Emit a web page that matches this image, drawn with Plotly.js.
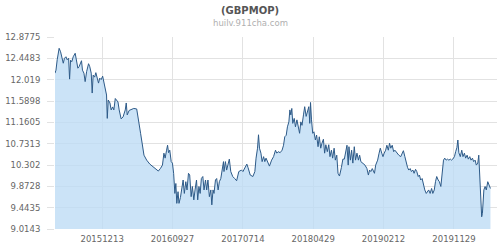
<!DOCTYPE html>
<html>
<head>
<meta charset="utf-8">
<script src="https://cdn.plot.ly/plotly-3.0.1.min.js"></script>
<style>html,body{margin:0;padding:0;background:#fff;}#chart{width:500px;height:250px;}</style>
</head>
<body>
<div id="chart"></div>
<script>
var dates = [
"2015-06-02","2015-06-06","2015-06-11","2015-06-19","2015-06-25","2015-06-30","2015-07-06","2015-07-11","2015-07-17","2015-07-22",
"2015-07-28","2015-08-01","2015-08-05","2015-08-10","2015-08-16","2015-08-24","2015-08-30","2015-09-04","2015-09-09","2015-09-15",
"2015-09-19","2015-09-23","2015-09-29","2015-10-04","2015-10-10","2015-10-18","2015-10-23","2015-10-29","2015-11-02","2015-11-06",
"2015-11-12","2015-11-17","2015-11-22","2015-11-28","2015-12-03","2015-12-09","2015-12-15","2015-12-20","2015-12-25","2015-12-31",
"2016-01-03","2016-01-07","2016-01-14","2016-01-19","2016-01-25","2016-01-30","2016-02-05","2016-02-10","2016-02-16","2016-02-21",
"2016-02-29","2016-03-08","2016-03-17","2016-03-21","2016-03-25","2016-04-02","2016-04-12","2016-04-21","2016-05-03","2016-05-11",
"2016-05-19","2016-06-02","2016-06-13","2016-06-26","2016-07-13","2016-07-31","2016-08-09","2016-08-17","2016-08-23","2016-08-28",
"2016-09-03","2016-09-07","2016-09-11","2016-09-16","2016-09-22","2016-09-27","2016-10-02","2016-10-07","2016-10-11","2016-10-15",
"2016-10-20","2016-10-24","2016-10-30","2016-11-04","2016-11-10","2016-11-15","2016-11-21","2016-11-26","2016-12-02","2016-12-07",
"2016-12-13","2016-12-18","2016-12-24","2016-12-29","2017-01-04","2017-01-09","2017-01-14","2017-01-19","2017-01-24","2017-01-30",
"2017-02-04","2017-02-10","2017-02-15","2017-02-20","2017-02-26","2017-03-04","2017-03-08","2017-03-13","2017-03-17","2017-03-23",
"2017-03-28","2017-04-03","2017-04-08","2017-04-14","2017-04-19","2017-04-25","2017-04-27","2017-05-03","2017-05-08","2017-05-14",
"2017-05-19","2017-05-25","2017-06-02","2017-06-10","2017-06-18","2017-06-27","2017-07-08","2017-07-14","2017-07-25","2017-07-30",
"2017-08-04","2017-08-13","2017-08-24","2017-09-01","2017-09-06","2017-09-12","2017-09-16","2017-09-20","2017-09-26","2017-10-01",
"2017-10-07","2017-10-12","2017-10-17","2017-10-23","2017-10-31","2017-11-09","2017-11-17","2017-11-25","2017-11-30","2017-12-06",
"2017-12-14","2017-12-22","2017-12-28","2018-01-02","2018-01-08","2018-01-13","2018-01-19","2018-01-23","2018-01-27","2018-01-31",
"2018-02-04","2018-02-10","2018-02-15","2018-02-21","2018-02-26","2018-03-04","2018-03-09","2018-03-14","2018-03-20","2018-03-25",
"2018-03-31","2018-04-06","2018-04-11","2018-04-15","2018-04-18","2018-04-22","2018-04-27","2018-05-02","2018-05-08","2018-05-13",
"2018-05-19","2018-05-24","2018-05-30","2018-06-04","2018-06-10","2018-06-15","2018-06-20","2018-06-26","2018-07-02","2018-07-07",
"2018-07-13","2018-07-18","2018-07-24","2018-07-29","2018-08-04","2018-08-09","2018-08-15","2018-08-23","2018-08-29","2018-09-04",
"2018-09-09","2018-09-15","2018-09-20","2018-09-23","2018-09-29","2018-10-04","2018-10-09","2018-10-15","2018-10-20","2018-10-26",
"2018-11-01","2018-11-06","2018-11-11","2018-11-19","2018-11-28","2018-12-06","2018-12-12","2018-12-17","2018-12-22","2018-12-28",
"2019-01-06","2019-01-11","2019-01-19","2019-01-25","2019-01-30","2019-02-05","2019-02-10","2019-02-15","2019-02-21","2019-02-26",
"2019-03-04","2019-03-09","2019-03-14","2019-03-20","2019-03-26","2019-03-31","2019-04-08","2019-04-16","2019-04-24","2019-04-30",
"2019-05-05","2019-05-11","2019-05-16","2019-05-22","2019-05-27","2019-06-02","2019-06-07","2019-06-13","2019-06-18","2019-06-24",
"2019-06-29","2019-07-05","2019-07-10","2019-07-15","2019-07-21","2019-07-27","2019-08-01","2019-08-07","2019-08-12","2019-08-17",
"2019-08-23","2019-08-29","2019-09-03","2019-09-09","2019-09-14","2019-09-19","2019-09-25","2019-09-30","2019-10-06","2019-10-12",
"2019-10-17","2019-10-22","2019-10-28","2019-11-02","2019-11-08","2019-11-14","2019-11-19","2019-11-24","2019-12-01","2019-12-06",
"2019-12-11","2019-12-15","2019-12-19","2019-12-25","2019-12-31","2020-01-05","2020-01-11","2020-01-16","2020-01-22","2020-01-27",
"2020-02-02","2020-02-07","2020-02-13","2020-02-18","2020-02-24","2020-02-29","2020-03-06","2020-03-10","2020-03-14","2020-03-18",
"2020-03-22","2020-03-25","2020-03-27","2020-03-31","2020-04-05","2020-04-10","2020-04-16","2020-04-21","2020-04-27"
];
var rates = [
12.15,12.21,12.42,12.65,12.58,12.48,12.35,12.45,12.48,12.42,
12.45,12.03,12.41,12.38,12.48,12.55,12.35,12.25,12.28,12.38,
12.40,12.21,12.15,11.98,12.18,12.34,12.28,12.15,11.75,12.11,
12.07,12.16,12.08,11.95,12.05,12.02,12.09,11.95,11.88,11.71,
11.24,11.61,11.55,11.41,11.47,11.41,11.64,11.61,11.57,11.41,
11.23,11.27,11.41,11.55,11.31,11.40,11.43,11.44,11.43,11.21,
10.94,10.50,10.40,10.32,10.255,10.18,10.235,10.30,10.54,10.44,
10.60,10.70,10.55,10.60,10.37,10.34,10.135,9.73,9.93,9.53,
9.765,9.53,9.65,9.83,10.0,9.73,9.966,9.80,10.135,10.10,
9.665,9.87,9.60,9.80,10.0,9.60,9.87,9.73,10.03,10.07,
9.80,10.0,9.80,10.0,9.665,9.80,9.50,9.80,9.73,10.0,
10.03,9.80,9.966,10.03,10.235,10.37,10.17,10.37,10.20,10.34,
10.42,10.17,10.07,10.03,9.985,10.17,10.20,10.17,10.30,10.32,
10.25,10.10,10.07,10.17,10.44,10.64,10.91,10.64,10.54,10.37,
10.47,10.37,10.44,10.37,10.28,10.40,10.47,10.60,10.54,10.57,
10.55,10.60,10.70,10.87,10.90,11.07,11.17,11.41,11.31,11.44,
11.14,11.24,11.07,11.21,11.04,10.94,11.17,11.10,11.31,11.475,
11.28,11.41,11.475,11.14,11.56,11.21,10.94,10.97,10.805,10.905,
10.67,10.87,10.64,10.74,10.82,10.54,10.71,10.57,10.71,10.47,
10.60,10.44,10.64,10.40,10.50,10.135,10.08,10.25,10.42,10.42,
10.57,10.70,10.30,10.67,10.40,10.60,10.34,10.67,10.40,10.54,
10.40,10.50,10.37,10.34,10.30,10.23,10.10,10.20,10.17,10.23,
10.135,10.30,10.40,10.54,10.64,10.54,10.47,10.54,10.60,10.70,
10.60,10.74,10.64,10.70,10.57,10.60,10.54,10.50,10.47,10.54,
10.59,10.47,10.34,10.255,10.20,10.23,10.17,10.20,10.135,10.215,
10.17,10.07,10.10,10.0,10.03,9.87,9.80,9.73,9.77,9.80,
9.73,9.83,9.73,9.80,9.966,10.07,10.0,9.966,9.87,10.135,
10.40,10.44,10.40,10.42,10.40,10.42,10.40,10.42,10.47,10.57,
10.65,10.805,10.55,10.47,10.60,10.47,10.54,10.44,10.50,10.42,
10.47,10.40,10.44,10.37,10.40,10.30,10.34,10.50,10.07,9.665,
9.26,9.33,9.60,9.80,9.87,9.80,9.966,9.90,9.83
];
var yTicks = [9.0143, 9.4435, 9.8728, 10.302, 10.7313, 11.1605, 11.5898, 12.019, 12.4483, 12.8775];
var xTickDates = ["2015-12-13","2016-09-27","2017-07-14","2018-04-29","2019-02-12","2019-11-29"];
var xTickLabels = ["20151213","20160927","20170714","20180429","20190212","20191129"];
var titleText = "(GBPMOP)";
var subtitleText = "huilv.911cha.com";

var trace = {
  x: dates, y: rates, type: "scatter", mode: "lines",
  line: {color: "#2d5a88", width: 1},
  fill: "tozeroy", fillcolor: "rgba(190,220,245,0.8)",
  hoverinfo: "x+y"
};
var grid = "#e2e2e2";
var layout = {
  width: 500, height: 250,
  margin: {l: 55, r: 3, t: 37, b: 21, pad: 0},
  paper_bgcolor: "#fff", plot_bgcolor: "#fff",
  showlegend: false,
  font: {family: "DejaVu Sans", size: 8.5, color: "#666"},
  title: {text: "<b>" + titleText + "</b>", x: 0.5, xref: "container", xanchor: "center",
          y: 0.957, yref: "container", yanchor: "middle",
          font: {family: "DejaVu Sans", size: 10, color: "#555"}},
  annotations: [{text: subtitleText, xref: "paper", yref: "paper", x: (250 - 55) / 442, y: (229 - 23.3) / 192,
                 xanchor: "center", yanchor: "middle", showarrow: false,
                 font: {family: "DejaVu Sans", size: 8.5, color: "#b0b0b0"}}],
  xaxis: {type: "date", range: ["2015-06-02", "2020-05-24"], tickmode: "array",
          tickvals: xTickDates, ticktext: xTickLabels, showgrid: true, gridcolor: grid, gridwidth: 1,
          zeroline: false, showline: false, ticks: "", ticklabelstandoff: 3,
          tickfont: {size: 8.5, color: "#666"}},
  yaxis: {range: [9.0143, 12.8775], tickmode: "array", tickvals: yTicks, ticktext: yTicks.map(String),
          showgrid: true, gridcolor: grid, gridwidth: 1, zeroline: false, showline: false,
          ticks: "outside", ticklen: 7, tickcolor: grid, ticklabelstandoff: 5,
          tickfont: {size: 8.5, color: "#666"}}
};
Plotly.newPlot("chart", [trace], layout, {displayModeBar: false, staticPlot: true});
</script>
</body>
</html>
